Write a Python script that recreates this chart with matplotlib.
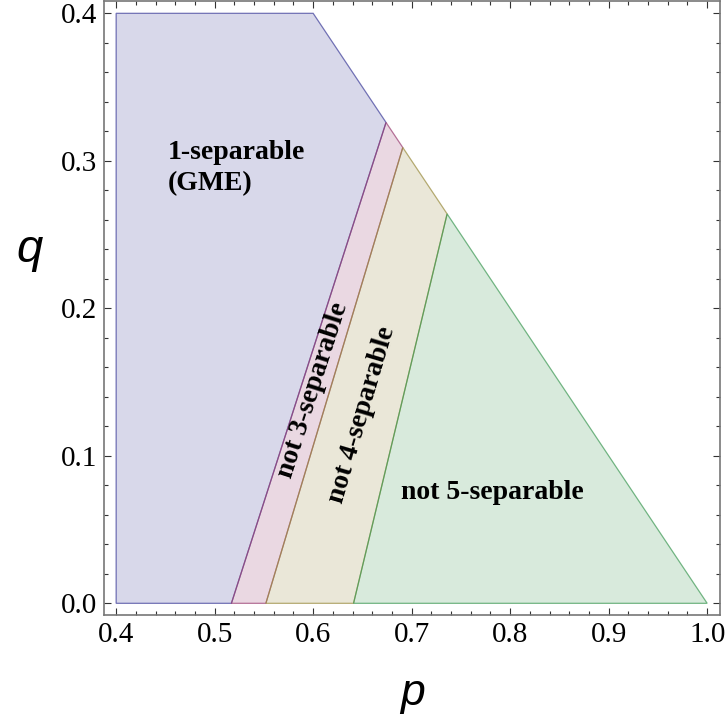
import matplotlib
matplotlib.use("Agg")
import matplotlib.pyplot as plt
from matplotlib.patches import Polygon
from matplotlib.ticker import MultipleLocator, FormatStrFormatter

# region vertices (p, q)
gme_p = [0.400, 0.400, 0.600, 0.674, 0.517]
gme_q = [0.000, 0.400, 0.400, 0.326, 0.000]

not3_p = [0.517, 0.674, 0.691, 0.552]
not3_q = [0.000, 0.326, 0.309, 0.000]

not4_p = [0.552, 0.691, 0.736, 0.641]
not4_q = [0.000, 0.309, 0.264, 0.000]

not5_p = [0.641, 0.736, 1.000]
not5_q = [0.000, 0.264, 0.000]

# old mathematica default region colours
colors = [(0.24, 0.24, 0.60), (0.60, 0.24, 0.4428),
          (0.60, 0.547, 0.24), (0.24, 0.60, 0.33)]

fig = plt.figure(figsize=(7.26, 7.14), dpi=100)
ax = fig.add_axes([0.1437, 0.1387, 0.8480, 0.8598])

regions = [(gme_p, gme_q), (not3_p, not3_q), (not4_p, not4_q), (not5_p, not5_q)]
for (ps, qs), c in zip(regions, colors):
    ax.add_patch(Polygon(list(zip(ps, qs)), closed=True, facecolor=c + (0.2,),
                         edgecolor='none', zorder=1))
for (ps, qs), c in zip(regions, colors):
    ax.add_patch(Polygon(list(zip(ps, qs)), closed=True, facecolor='none',
                         edgecolor=c + (0.7,), lw=0.9, zorder=2))

ax.set_xlim(0.388, 1.013)
ax.set_ylim(-0.0079, 0.4083)

serif = 'Liberation Serif'
ax.text(0.452, 0.314, '1-separable\n(GME)', family=serif, weight='bold',
        fontsize=20, ha='left', va='top', linespacing=1.3)
ax.text(0.600, 0.1445, 'not 3-separable', family=serif, weight='bold',
        fontsize=20, ha='center', va='center', rotation=72.2,
        rotation_mode='anchor')
ax.text(0.6495, 0.128, 'not 4-separable', family=serif, weight='bold',
        fontsize=20, ha='center', va='center', rotation=73.5,
        rotation_mode='anchor')
ax.text(0.689, 0.0754, 'not 5-separable', family=serif, weight='bold',
        fontsize=20, ha='left', va='center')

# frame and ticks
for s in ax.spines.values():
    s.set_color('#777777')
    s.set_linewidth(1.2)
ax.xaxis.set_major_locator(MultipleLocator(0.1))
ax.xaxis.set_minor_locator(MultipleLocator(0.02))
ax.yaxis.set_major_locator(MultipleLocator(0.1))
ax.yaxis.set_minor_locator(MultipleLocator(0.02))
ax.xaxis.set_major_formatter(FormatStrFormatter('%.1f'))
ax.yaxis.set_major_formatter(FormatStrFormatter('%.1f'))
ax.tick_params(which='both', direction='in', top=True, right=True,
               color='#333333', width=0.8)
ax.tick_params(which='major', length=5, labelsize=21, pad=5)
ax.tick_params(which='minor', length=3)
for lab in ax.get_xticklabels() + ax.get_yticklabels():
    lab.set_family(serif)

ax.set_xlabel('p', family='Liberation Sans', style='italic', fontsize=32,
              va='center')
ax.set_ylabel('q', family='Liberation Sans', style='italic', fontsize=34,
              rotation=0, va='center', ha='center')
ax.xaxis.set_label_coords(0.501, -0.128)
ax.yaxis.set_label_coords(-0.121, 0.594)

fig.savefig('out.png', dpi=100)
